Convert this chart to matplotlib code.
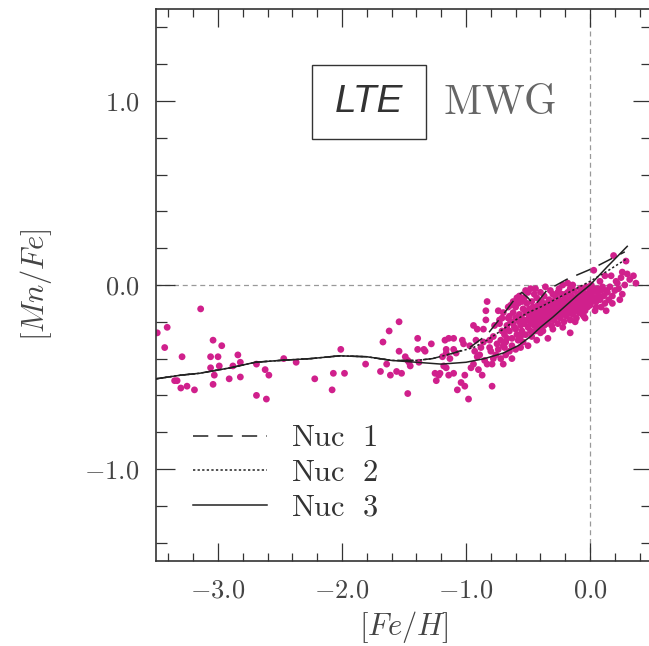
import matplotlib
matplotlib.use('Agg')
import matplotlib.pyplot as plt
from matplotlib.ticker import MultipleLocator, FixedLocator, FuncFormatter
from matplotlib.patches import Rectangle

plt.rcParams['mathtext.fontset'] = 'cm'

# 星表数据: 贫金属晕星 [Fe/H], [Mn/Fe]
halo_feh = [-3.49, -3.41, -3.14, -3.43, -3.29, -3.35, -3.33, -3.30, -3.25, -3.19,
            -3.04, -2.97, -3.06, -3.00, -3.06, -2.99, -3.03, -3.04, -2.91, -2.84,
            -2.82, -2.88, -2.82, -2.69, -2.69, -2.62, -2.59, -2.61, -2.47, -2.37,
            -2.22, -2.08, -2.07, -2.01, -1.98, -1.81, -1.67, -1.62, -1.54, -1.54,
            -1.69, -1.64, -1.61, -1.56, -1.52, -1.47, -1.49, -1.47, -1.45, -1.46,
            -1.39, -1.39, -1.38, -1.34, -1.33, -1.28, -1.25, -1.22, -1.24, -1.17,
            -1.14, -1.19, -1.16, -1.16, -1.14]
halo_mnfe = [-0.26, -0.23, -0.13, -0.34, -0.39, -0.52, -0.52, -0.56, -0.55, -0.57,
             -0.30, -0.33, -0.39, -0.39, -0.45, -0.44, -0.49, -0.54, -0.51, -0.38,
             -0.42, -0.44, -0.50, -0.43, -0.60, -0.46, -0.49, -0.62, -0.40, -0.42,
             -0.51, -0.57, -0.48, -0.35, -0.48, -0.43, -0.31, -0.25, -0.20, -0.36,
             -0.47, -0.43, -0.49, -0.47, -0.48, -0.59, -0.39, -0.41, -0.44, -0.42,
             -0.29, -0.35, -0.42, -0.35, -0.36, -0.32, -0.48, -0.49, -0.52, -0.30,
             -0.29, -0.39, -0.37, -0.45, -0.49]

# 厚盘过渡区
thick_feh = [-1.10, -1.03, -1.02, -1.16, -1.10, -1.08, -1.13, -1.18, -1.21, -1.10,
             -1.01, -1.04, -1.01, -1.07, -0.98, -0.87, -0.79, -0.94, -0.91, -0.89,
             -0.85, -0.83, -0.79, -0.78, -0.70, -0.94, -0.91, -0.86, -0.83, -0.84,
             -0.84, -0.74, -0.73, -0.78, -0.81, -0.75, -0.81, -0.74, -0.69, -0.67,
             -0.65, -0.59, -0.55, -0.52, -0.44, -0.65, -0.62, -0.67, -0.60, -0.56,
             -0.50, -0.56, -0.43, -0.34, -0.40, -0.16, -0.30, -0.18, -0.20, -0.97,
             -0.92, -0.88, -0.96, -0.90, -0.93, -0.86, -0.80, -0.76, -0.72, -0.68,
             -0.63, -0.14, -0.06, -0.25, -0.77, -0.71, -0.64, -0.57, -0.48, -0.45]
thick_mnfe = [-0.29, -0.30, -0.32, -0.35, -0.35, -0.37, -0.40, -0.44, -0.48, -0.48,
              -0.49, -0.53, -0.55, -0.57, -0.62, -0.49, -0.55, -0.43, -0.39, -0.38,
              -0.41, -0.43, -0.43, -0.40, -0.43, -0.22, -0.24, -0.24, -0.09, -0.14,
              -0.19, -0.14, -0.19, -0.28, -0.30, -0.32, -0.34, -0.35, -0.34, -0.29,
              -0.36, -0.07, -0.09, -0.03, -0.02, -0.17, -0.21, -0.24, -0.24, -0.28,
              -0.33, -0.34, -0.30, -0.29, -0.26, -0.26, -0.05, 0.01, -0.05, -0.33,
              -0.30, -0.34, -0.45, -0.46, -0.36, -0.31, -0.36, -0.38, -0.40, -0.38,
              -0.40, 0.00, -0.02, -0.02, -0.22, -0.18, -0.11, -0.06, -0.02, -0.05]

# 薄盘密集区
thin_feh = [-0.72, -0.71, -0.73, -0.70, -0.69, -0.67, -0.68, -0.66, -0.65, -0.64,
            -0.63, -0.62, -0.63, -0.61, -0.60, -0.59, -0.60, -0.58, -0.57, -0.56,
            -0.57, -0.55, -0.54, -0.55, -0.53, -0.52, -0.52, -0.51, -0.51, -0.50,
            -0.49, -0.49, -0.48, -0.48, -0.47, -0.47, -0.46, -0.46, -0.45, -0.45,
            -0.44, -0.44, -0.43, -0.43, -0.42, -0.42, -0.41, -0.41, -0.40, -0.40,
            -0.39, -0.39, -0.38, -0.38, -0.37, -0.37, -0.36, -0.36, -0.35, -0.35,
            -0.34, -0.34, -0.33, -0.33, -0.32, -0.32, -0.31, -0.31, -0.30, -0.30,
            -0.29, -0.29, -0.28, -0.28, -0.27, -0.27, -0.26, -0.26, -0.25, -0.25,
            -0.24, -0.24, -0.23, -0.23, -0.22, -0.22, -0.21, -0.21, -0.20, -0.20,
            -0.19, -0.19, -0.18, -0.18, -0.17, -0.17, -0.16, -0.16, -0.15, -0.15,
            -0.14, -0.14, -0.13, -0.13, -0.12, -0.12, -0.11, -0.11, -0.10, -0.10,
            -0.09, -0.09, -0.08, -0.08, -0.07, -0.07, -0.06, -0.06, -0.05, -0.05,
            -0.04, -0.04, -0.03, -0.03, -0.02, -0.02, -0.01, 0.00, 0.00, 0.01,
            0.02, 0.03, 0.04, 0.05, 0.06, 0.08, 0.09, 0.11, 0.12, 0.14,
            0.16, 0.18, 0.21, 0.23, 0.25, 0.28, 0.30, -0.70, -0.66, -0.62,
            -0.58, -0.53, -0.50, -0.40, -0.36, -0.32, -0.26, -0.22, -0.16, -0.60,
            -0.54, -0.47, -0.38, -0.30, -0.22, -0.12, -0.04]
thin_mnfe = [-0.30, -0.25, -0.21, -0.33, -0.27, -0.22, -0.31, -0.18, -0.25, -0.20,
             -0.29, -0.15, -0.33, -0.23, -0.18, -0.27, -0.12, -0.30, -0.20, -0.22,
             -0.16, -0.25, -0.13, -0.18, -0.21, -0.27, -0.15, -0.10, -0.19, -0.23,
             -0.13, -0.17, -0.21, -0.25, -0.09, -0.15, -0.19, -0.12, -0.22, -0.16,
             -0.14, -0.25, -0.18, -0.07, -0.11, -0.20, -0.15, -0.23, -0.13, -0.17,
             -0.09, -0.20, -0.12, -0.16, -0.22, -0.06, -0.14, -0.18, -0.10, -0.21,
             -0.13, -0.16, -0.08, -0.19, -0.11, -0.15, -0.22, -0.13, -0.09, -0.17,
             -0.12, -0.19, -0.06, -0.14, -0.10, -0.17, -0.13, -0.21, -0.08, -0.15,
             -0.11, -0.18, -0.05, -0.13, -0.09, -0.16, -0.12, -0.20, -0.07, -0.14,
             -0.10, -0.17, -0.04, -0.12, -0.08, -0.15, -0.11, -0.19, -0.06, -0.13,
             -0.09, -0.16, -0.03, -0.11, -0.07, -0.14, -0.10, -0.18, -0.05, -0.12,
             -0.08, -0.15, -0.02, -0.11, -0.06, -0.13, -0.09, -0.16, -0.04, -0.11,
             -0.07, -0.14, -0.01, -0.10, -0.05, -0.12, -0.08, -0.03, -0.11, -0.06,
             -0.09, -0.02, -0.07, -0.12, -0.04, -0.08, -0.03, -0.06, -0.10, -0.04,
             -0.01, -0.06, 0.02, -0.02, 0.04, 0.00, 0.06, -0.15, -0.12, -0.09,
             -0.10, -0.07, -0.04, -0.04, -0.01, -0.03, -0.04, 0.00, -0.02, -0.35,
             -0.31, -0.28, -0.25, -0.24, -0.23, -0.20, -0.18]

# 超太阳金属丰度
rich_feh = [0.03, 0.19, 0.29, 0.26, 0.17, 0.12, 0.35, 0.32, 0.37, 0.22,
            0.08, 0.13, 0.20, 0.26, 0.15, 0.24, 0.05, 0.13, 0.04, 0.09,
            -0.05, 0.02, 0.07, 0.10, 0.18, 0.01, 0.06]
rich_mnfe = [0.08, 0.16, 0.13, 0.07, 0.05, 0.05, 0.05, 0.03, 0.01, 0.01,
             0.02, -0.03, -0.03, -0.05, -0.08, -0.08, -0.09, -0.14, -0.14, -0.12,
             -0.17, -0.04, -0.06, -0.01, -0.10, 0.00, -0.02]

# 模型曲线
nuc1_feh = [-3.5, -3.3, -3.15, -2.9, -2.7, -2.5, -2.25, -2.02, -1.8, -1.6, -1.4, -1.27,
            -1.1, -0.97, -0.83, -0.7, -0.6, -0.55, -0.5, -0.45, -0.42, -0.35, -0.19, 0.02, 0.28]
nuc1_mnfe = [-0.51, -0.49, -0.48, -0.45, -0.42, -0.41, -0.40, -0.385, -0.39, -0.41, -0.41, -0.40,
             -0.37, -0.34, -0.27, -0.16, -0.07, -0.04, -0.07, -0.11, -0.09, -0.03, 0.03, 0.09, 0.18]
nuc2_feh = [-3.5, -3.3, -3.15, -2.9, -2.7, -2.5, -2.25, -2.02, -1.8, -1.6, -1.4, -1.27,
            -1.1, -0.94, -0.83, -0.7, -0.6, -0.5, -0.4, -0.2, 0.0, 0.15, 0.29]
nuc2_mnfe = [-0.51, -0.49, -0.48, -0.45, -0.42, -0.41, -0.40, -0.385, -0.39, -0.41, -0.41, -0.40,
             -0.37, -0.34, -0.30, -0.24, -0.19, -0.15, -0.12, -0.05, 0.02, 0.08, 0.14]
nuc3_feh = [-3.5, -3.3, -3.15, -2.9, -2.7, -2.5, -2.25, -2.02, -1.8, -1.6, -1.4, -1.2,
            -1.0, -0.85, -0.7, -0.58, -0.48, -0.40, -0.3, -0.2, -0.1, 0.0, 0.14, 0.30]
nuc3_mnfe = [-0.51, -0.49, -0.48, -0.45, -0.42, -0.41, -0.40, -0.385, -0.39, -0.41, -0.42, -0.43,
             -0.42, -0.40, -0.37, -0.33, -0.28, -0.23, -0.175, -0.115, -0.055, 0.0, 0.10, 0.21]

xticks = [-3.0, -2.0, -1.0, 0.0]
yticks = [-1.0, 0.0, 1.0]

fig = plt.figure(figsize=(6.49, 6.46), dpi=100)
ax = fig.add_axes([0.2404, 0.1316, 0.7643, 0.8545])

pink = '#D0208C'
feh = halo_feh + thick_feh + thin_feh + rich_feh
mnfe = halo_mnfe + thick_mnfe + thin_mnfe + rich_mnfe
ax.scatter(feh, mnfe, s=24, color=pink, edgecolors='none', zorder=2)

ax.axhline(0.0, color='#999999', lw=0.9, ls=(0, (4, 3)), zorder=1)
ax.axvline(0.0, color='#999999', lw=0.9, ls=(0, (4, 3)), zorder=1)

ax.plot(nuc1_feh, nuc1_mnfe, color='#222222', lw=1.1, ls=(0, (10, 6)), label=r'$\mathrm{Nuc\ \ 1}$', zorder=3)
ax.plot(nuc2_feh, nuc2_mnfe, color='#222222', lw=1.1, ls=(0, (1.5, 1.5)), label=r'$\mathrm{Nuc\ \ 2}$', zorder=3)
ax.plot(nuc3_feh, nuc3_mnfe, color='#222222', lw=1.1, ls='-', label=r'$\mathrm{Nuc\ \ 3}$', zorder=3)

ax.set_xlim(-3.5, 0.5)
ax.set_ylim(-1.5, 1.5)

ax.xaxis.set_major_locator(FixedLocator(xticks))
ax.yaxis.set_major_locator(FixedLocator(yticks))
ax.xaxis.set_minor_locator(MultipleLocator(0.2))
ax.yaxis.set_minor_locator(MultipleLocator(0.2))
fmt = FuncFormatter(lambda v, p: r'$\mathrm{%.1f}$' % v)
ax.xaxis.set_major_formatter(fmt)
ax.yaxis.set_major_formatter(fmt)

ax.tick_params(axis='both', which='both', direction='in', top=True, right=True,
               color='#333333', width=0.9, labelsize=19, labelcolor='#444444')
ax.tick_params(axis='x', which='major', length=13, pad=12)
ax.tick_params(axis='x', which='minor', length=6)
ax.tick_params(axis='y', which='major', length=14, pad=12)
ax.tick_params(axis='y', which='minor', length=8)
for sp in ax.spines.values():
    sp.set_color('#333333')
    sp.set_linewidth(1.2)

ax.set_xlabel(r'$[Fe/H]$', fontsize=22, color='#444444', labelpad=4)
ax.set_ylabel(r'$[Mn/Fe]$', fontsize=22, color='#444444', labelpad=22)

leg = ax.legend(loc='lower left', bbox_to_anchor=(0.02, 0.022), frameon=False,
                fontsize=22, handlelength=2.4, handletextpad=0.8, labelspacing=0.18,
                labelcolor='#333333')

# LTE 标签框
ax.add_patch(Rectangle((0.3145, 0.7645), 0.2295, 0.1341, transform=ax.transAxes,
                       fill=False, ec='#333333', lw=1.0, zorder=4))
ax.text(0.429, 0.831, 'LTE', transform=ax.transAxes, ha='center', va='center',
        fontsize=28, style='italic', family='Liberation Sans', color='#333333')
ax.text(0.578, 0.831, r'$\mathrm{MWG}$', transform=ax.transAxes, ha='left', va='center',
        fontsize=30, color='#666666')

fig.savefig('out.png', dpi=100)
